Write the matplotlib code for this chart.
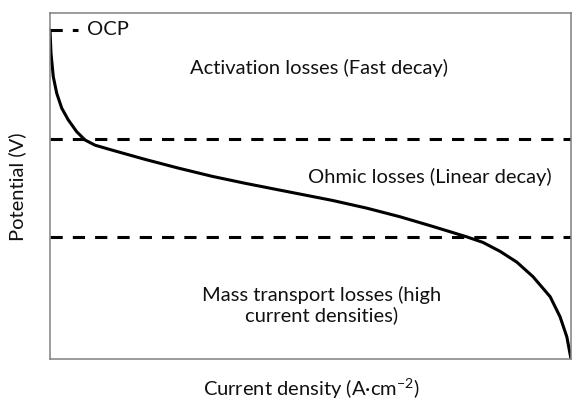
import matplotlib
matplotlib.use("Agg")
import matplotlib.pyplot as plt

plt.rcParams['font.family'] = ['Lato', 'DejaVu Sans']
plt.rcParams['mathtext.fontset'] = 'custom'
plt.rcParams['mathtext.rm'] = 'Lato'
plt.rcParams['mathtext.it'] = 'Lato:italic'
plt.rcParams['mathtext.bf'] = 'Lato:bold'

# Polarization curve (normalized units)
current = [0.0, 0.0019, 0.0063, 0.0129, 0.0225, 0.0351, 0.0512, 0.0672, 0.0864, 0.1184,
           0.1823, 0.2457, 0.311, 0.374, 0.438, 0.489, 0.543, 0.608, 0.672, 0.735,
           0.800, 0.831, 0.864, 0.896, 0.927, 0.960, 0.979, 0.992, 1.0]
potential = [0.951, 0.884, 0.816, 0.768, 0.725, 0.691, 0.657, 0.633, 0.618, 0.604,
             0.577, 0.552, 0.528, 0.508, 0.489, 0.474, 0.458, 0.436, 0.411, 0.383,
             0.353, 0.337, 0.311, 0.280, 0.238, 0.180, 0.122, 0.064, 0.0]

ocp_level = 0.951
ocp_extent = 0.054
activation_limit = 0.636
ohmic_limit = 0.353

region_labels = ["Activation losses (Fast decay)",
                 "Ohmic losses (Linear decay)",
                 "Mass transport losses (high\ncurrent densities)"]

fig = plt.figure(figsize=(5.72, 4.01), dpi=100)
ax = fig.add_axes([50/572, 42/401, 521/572, 346/401])
ax.set_xlim(0, 1)
ax.set_ylim(0, 1)

ax.plot(current, potential, color='black', lw=2.2, solid_capstyle='round',
        solid_joinstyle='round')
dash = (0, (4, 3.3))
ax.plot([0, ocp_extent], [ocp_level, ocp_level], color='black', lw=2.2, linestyle=dash)
ax.axhline(activation_limit, color='black', lw=2.2, linestyle=dash)
ax.axhline(ohmic_limit, color='black', lw=2.2, linestyle=dash)

tc = '#111111'
fs = 14.5
ax.text(0.071, ocp_level, "OCP", ha='left', va='center', fontsize=fs, color=tc)
ax.text(0.516, (359-68)/346, region_labels[0], ha='center', va='center', fontsize=fs, color=tc)
ax.text(0.729, (359-177)/346, region_labels[1], ha='center', va='center', fontsize=fs, color=tc)
ax.text(0.522, (359-305)/346, region_labels[2], ha='center', va='center', fontsize=fs,
        color=tc, multialignment='center', linespacing=1.15)

ax.set_xticks([])
ax.set_yticks([])
for s in ax.spines.values():
    s.set_color('#808080')
    s.set_linewidth(1.1)

fig.text(311/572, 1 - 389/401, "Current density (A·cm$^{-2}$)", ha='center', va='center',
         fontsize=fs, color=tc)
fig.text(17/572, 1 - 187/401, "Potential (V)", ha='center', va='center', rotation=90,
         fontsize=fs, color=tc)

fig.savefig("out.png", dpi=100)
